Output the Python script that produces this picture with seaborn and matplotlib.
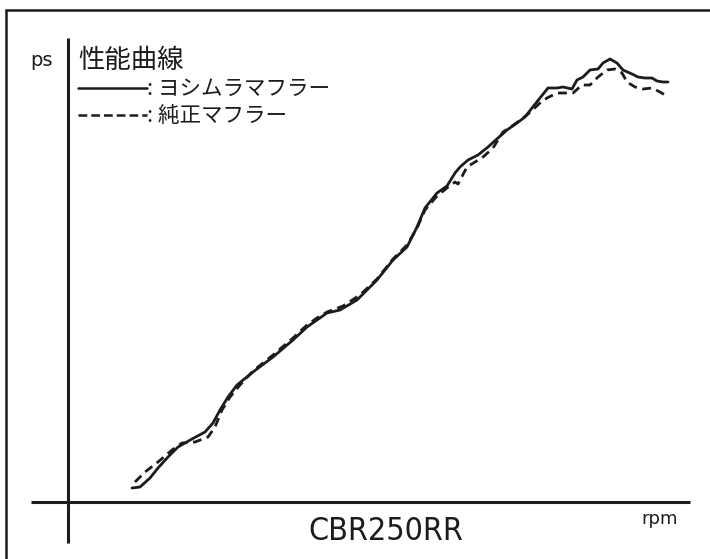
import matplotlib.pyplot as plt
import numpy as np
import pandas as pd
import seaborn as sns
from matplotlib.lines import Line2D

# ヨシムラマフラー (solid)
rpm_yoshimura = [1920, 2160, 2460, 2700, 3000, 3300, 3720, 4110, 4350, 4560,
                 4800, 5070, 5550, 6150, 6750, 7170, 7470, 7770, 8160, 8670,
                 9270, 9750, 10170, 10470, 10710, 11070, 11370, 11610, 11760, 12000,
                 12300, 12600, 12900, 13170, 13470, 13710, 13920, 14160, 14400, 14670,
                 14850, 15120, 15270, 15450, 15660, 15900, 16050, 16260, 16470, 16650,
                 16920, 17100, 17310, 17520, 17670, 17850, 18000]
ps_yoshimura = [1.26, 1.35, 2.16, 3.06, 4.05, 4.95, 5.67, 6.3, 7.11, 8.28,
                9.45, 10.53, 11.7, 13.05, 14.58, 15.75, 16.38, 17.01, 17.28, 18.18,
                19.98, 21.78, 22.95, 24.75, 26.46, 27.81, 28.44, 29.61, 30.15, 30.78,
                31.23, 31.95, 32.76, 33.48, 34.11, 34.65, 35.46, 36.36, 37.26, 37.26,
                37.35, 37.17, 37.98, 38.25, 38.88, 38.97, 39.51, 39.87, 39.51, 38.88,
                38.52, 38.25, 38.16, 38.16, 37.89, 37.8, 37.8]

# 純正マフラー (dashed)
rpm_stock = [2010, 2310, 2700, 3120, 3420, 3810, 4200, 4410, 4620, 4860,
             5160, 5550, 6150, 6750, 7170, 7470, 7770, 8250, 8760, 9270,
             9750, 10170, 10470, 10710, 11070, 11370, 11610, 11700, 11970, 12210,
             12450, 12750, 13050, 13410, 13770, 14160, 14370, 14670, 14910, 15150,
             15420, 15660, 15900, 16170, 16410, 16620, 16770, 17010, 17250, 17520,
             17700, 17970]
ps_stock = [1.8, 2.7, 3.6, 4.68, 5.31, 5.4, 5.85, 6.75, 8.28, 9.45,
            10.53, 11.79, 13.23, 14.76, 15.93, 16.56, 17.1, 17.64, 18.63, 20.07,
            21.87, 23.13, 24.66, 26.28, 27.54, 28.26, 28.8, 28.62, 30.15, 30.6,
            31.05, 31.86, 33.3, 34.02, 34.83, 35.91, 36.36, 36.81, 36.81, 36.81,
            37.53, 37.53, 38.25, 38.88, 38.97, 38.61, 37.8, 37.35, 37.17, 37.26,
            36.99, 36.54]

df = pd.concat([
    pd.DataFrame({"rpm": rpm_yoshimura, "ps": ps_yoshimura, "muffler": "yoshimura"}),
    pd.DataFrame({"rpm": rpm_stock, "ps": ps_stock, "muffler": "stock"}),
])

sns.set_style("white")
plt.rcParams["font.family"] = ["Noto Sans CJK JP", "DejaVu Sans"]

W, H = 710, 559
fig = plt.figure(figsize=(W / 100, H / 100), dpi=100)
ax = fig.add_axes([0, 0, 1, 1])
ink = "#1c1c1c"

sns.lineplot(data=df, x="rpm", y="ps", hue="muffler", style="muffler",
             palette={"yoshimura": ink, "stock": ink},
             dashes={"yoshimura": "", "stock": (3.2, 2)},
             sort=False, estimator=None, linewidth=2, legend=False, ax=ax)

ax.set_xlim(-2040, 19260)
ax.set_ylim(-5.13, 45.18)
ax.axis("off")

# axis lines
ax.plot([-1110, 18660], [0, 0], color=ink, lw=2.2, solid_capstyle="butt")
ax.plot([0, 0], [-3.69, 41.76], color=ink, lw=2.2, solid_capstyle="butt")

def fx(px):
    return px / W

def fy(py):
    return 1 - py / H

# outer frame: only top and left edges fall inside the picture
fig.add_artist(Line2D([fx(6), 1.1], [fy(10), fy(10)], transform=fig.transFigure,
                      color=ink, lw=1.8))
fig.add_artist(Line2D([fx(6), fx(6)], [fy(10), -0.1], transform=fig.transFigure,
                      color=ink, lw=1.8))

fig.text(fx(41), fy(61), "ps", fontsize=14, ha="center", va="center",
         color=ink, family=["DejaVu Sans"])
fig.text(fx(78), fy(60), "性能曲線", fontsize=19, ha="left", va="center", color=ink)

fig.add_artist(Line2D([fx(78), fx(147)], [fy(88), fy(88)], transform=fig.transFigure,
                      color=ink, lw=1.8))
fig.add_artist(Line2D([fx(78), fx(147)], [fy(115), fy(115)], transform=fig.transFigure,
                      color=ink, lw=1.8, dashes=(3.5, 1.6)))
fig.text(fx(147), fy(89), ": ヨシムラマフラー", fontsize=15.5, ha="left", va="center", color=ink)
fig.text(fx(147), fy(116), ": 純正マフラー", fontsize=15.5, ha="left", va="center", color=ink)

fig.text(fx(386), fy(531), "CBR250RR", fontsize=23, ha="center", va="center", color=ink,
         family=["DejaVu Sans"], fontstretch="condensed")
fig.text(fx(660), fy(519), "rpm", fontsize=13, ha="center", va="center", color=ink,
         family=["DejaVu Sans"])

fig.savefig("out.png", dpi=100)
